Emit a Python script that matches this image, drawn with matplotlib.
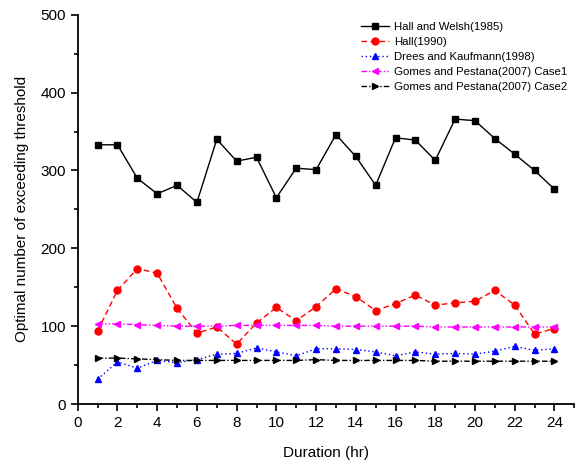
import numpy as np
import matplotlib
matplotlib.use("Agg")
import matplotlib.pyplot as plt
from matplotlib.ticker import MultipleLocator

plt.rcParams['font.family'] = ['Liberation Sans', 'DejaVu Sans']

duration = np.arange(1, 25)

hall_welsh = [333, 333, 290, 270, 281, 259, 340, 312, 317, 265, 303, 301,
              346, 318, 281, 342, 339, 313, 366, 364, 341, 321, 300, 276]
hall = [94, 146, 174, 168, 123, 91, 99, 77, 104, 124, 107, 125,
        148, 138, 120, 129, 140, 127, 130, 132, 146, 127, 90, 97]
drees = [32, 54, 46, 56, 53, 57, 64, 65, 72, 67, 62, 71,
         71, 70, 67, 62, 67, 64, 65, 64, 68, 74, 69, 71]
gomes1 = [103, 103, 102, 101, 100, 100, 100, 101, 101, 101, 101, 101,
          100, 100, 100, 100, 100, 99, 99, 99, 99, 99, 99, 99]
gomes2 = [59, 59, 58, 57, 56, 56, 56, 56, 56, 56, 56, 57,
          56, 56, 56, 56, 56, 55, 55, 55, 55, 55, 55, 55]

labels = ['Hall and Welsh(1985)', 'Hall(1990)', 'Drees and Kaufmann(1998)',
          'Gomes and Pestana(2007) Case1', 'Gomes and Pestana(2007) Case2']

fig = plt.figure(figsize=(5.76, 4.62), dpi=100)
ax = fig.add_axes([0.135, 0.1255, 0.862, 0.8425])

ax.plot(duration, hall_welsh, color='black', ls='-', lw=1, marker='s', ms=5, label=labels[0])
ax.plot(duration, hall, color='red', ls=(0, (4, 2.5)), lw=1, marker='o', ms=5, label=labels[1])
ax.plot(duration, drees, color='blue', ls=(0, (1, 2)), lw=1, marker='^', ms=5, label=labels[2])
ax.plot(duration, gomes1, color='magenta', ls=(0, (4, 1.5, 1, 1.5, 1, 1.5)), lw=1, marker='<', ms=5, label=labels[3])
ax.plot(duration, gomes2, color='black', ls=(0, (4, 1.5, 1, 1.5)), lw=1, marker='>', ms=5, label=labels[4])

ax.set_xlim(0, 25)
ax.set_ylim(0, 500)
ax.xaxis.set_major_locator(MultipleLocator(2))
ax.xaxis.set_minor_locator(MultipleLocator(1))
ax.yaxis.set_major_locator(MultipleLocator(100))
ax.yaxis.set_minor_locator(MultipleLocator(50))
ax.spines['top'].set_visible(False)
ax.spines['right'].set_visible(False)
for s in ['left', 'bottom']:
    ax.spines[s].set_linewidth(1.3)
ax.tick_params(which='major', direction='out', length=5, width=1.2, labelsize=11)
ax.tick_params(which='minor', direction='out', length=3, width=1.2)

ax.set_xlabel('Duration (hr)', fontsize=11, labelpad=12)
ax.set_ylabel('Optimal number of exceeding threshold', fontsize=11, labelpad=8)

ax.legend(loc='upper right', bbox_to_anchor=(1.0, 1.0), frameon=False, fontsize=8.2,
          handlelength=2.5, handletextpad=0.45, labelspacing=0.45, borderaxespad=0.2)

fig.savefig('out.png', dpi=100)
